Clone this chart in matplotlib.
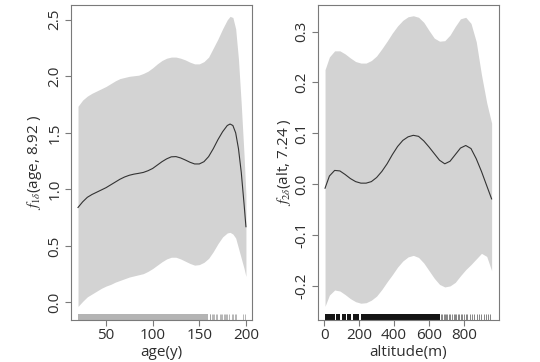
import numpy as np
import matplotlib.pyplot as plt
from matplotlib.ticker import FormatStrFormatter

plt.rcParams['font.family'] = ['Open Sans', 'DejaVu Sans']
plt.rcParams['mathtext.fontset'] = 'stix'

# panel 1: smooth of age
age = [20, 25, 30, 35, 40, 45, 50, 55, 60, 65, 70, 75, 80, 85, 90, 95, 100, 105, 110, 115,
       120, 125, 130, 135, 140, 145, 150, 155, 160, 165, 170, 175, 180, 183, 186, 189, 192, 195, 198, 200]
age_fit = [0.84, 0.89, 0.93, 0.955, 0.975, 0.995, 1.015, 1.04, 1.065, 1.09, 1.11, 1.125, 1.135, 1.142,
           1.15, 1.165, 1.185, 1.215, 1.245, 1.27, 1.288, 1.29, 1.278, 1.26, 1.24, 1.225, 1.225, 1.245,
           1.29, 1.36, 1.44, 1.51, 1.565, 1.578, 1.565, 1.50, 1.36, 1.15, 0.87, 0.67]
age_hi = [1.735, 1.79, 1.825, 1.85, 1.87, 1.89, 1.91, 1.935, 1.96, 1.98, 1.99, 2.0, 2.005, 2.01,
          2.025, 2.045, 2.075, 2.11, 2.14, 2.16, 2.17, 2.17, 2.16, 2.145, 2.125, 2.11, 2.11, 2.13,
          2.17, 2.25, 2.33, 2.42, 2.50, 2.53, 2.52, 2.42, 2.15, 1.75, 1.30, 0.95]
age_lo = [-0.035, 0.01, 0.05, 0.075, 0.10, 0.125, 0.145, 0.16, 0.18, 0.195, 0.21, 0.225, 0.235, 0.245,
          0.255, 0.275, 0.30, 0.33, 0.36, 0.385, 0.40, 0.40, 0.385, 0.365, 0.345, 0.33, 0.335, 0.355,
          0.39, 0.45, 0.52, 0.58, 0.615, 0.62, 0.605, 0.57, 0.48, 0.39, 0.30, 0.23]
# rug: solid block then single observations
age_rug_blocks = [(20, 159)]
age_rug_single = [161, 162, 164, 165, 166, 168, 169, 172, 173, 174, 176, 178, 179, 180,
                  182, 185, 186, 188, 189, 197, 199]

# panel 2: smooth of altitude
alt = [5, 30, 60, 90, 120, 150, 180, 210, 240, 270, 300, 330, 360, 390, 420, 450, 480,
       510, 540, 570, 600, 630, 660, 690, 720, 750, 780, 810, 840, 870, 900, 930, 958]
alt_fit = [-0.008, 0.016, 0.027, 0.026, 0.019, 0.011, 0.005, 0.002, 0.002, 0.005, 0.013, 0.025,
           0.040, 0.058, 0.074, 0.086, 0.093, 0.096, 0.094, 0.085, 0.073, 0.060, 0.047, 0.040,
           0.045, 0.058, 0.071, 0.076, 0.070, 0.050, 0.025, -0.003, -0.029]
alt_hi = [0.225, 0.250, 0.262, 0.262, 0.256, 0.248, 0.241, 0.238, 0.238, 0.243, 0.252, 0.266,
          0.281, 0.297, 0.311, 0.322, 0.329, 0.331, 0.328, 0.318, 0.302, 0.287, 0.281, 0.282,
          0.293, 0.310, 0.325, 0.328, 0.316, 0.280, 0.215, 0.160, 0.120]
alt_lo = [-0.240, -0.218, -0.208, -0.210, -0.217, -0.225, -0.231, -0.234, -0.233, -0.228, -0.220,
          -0.207, -0.192, -0.178, -0.163, -0.151, -0.143, -0.140, -0.144, -0.155, -0.170, -0.185,
          -0.197, -0.202, -0.200, -0.193, -0.180, -0.168, -0.158, -0.147, -0.136, -0.142, -0.170]
alt_rug_blocks = [(3, 60), (68, 92), (100, 124), (132, 156), (165, 200), (210, 662)]
alt_rug_single = [668, 676, 683, 690, 698, 705, 712, 722, 730, 741, 748, 757, 765, 772, 780,
                  790, 801, 812, 820, 835, 848, 858, 872, 885, 900, 912, 925, 940, 950]

band = '#d3d3d3'
frame = '#7a7a7a'
txt = '#2e2e2e'

fig = plt.figure(figsize=(5.4, 3.62), dpi=100)
ax1 = fig.add_axes([0.1315, 0.116, 0.335, 0.870])
ax2 = fig.add_axes([0.588, 0.116, 0.336, 0.870])


def rug(ax, blocks, single, color, single_color):
    for a, b in blocks:
        ax.axvspan(a, b, ymin=0, ymax=0.02, color=color, lw=0)
    ax.vlines(single, 0, 0.02, transform=ax.get_xaxis_transform(), colors=single_color, lw=0.5)


def style(ax):
    for s in ax.spines.values():
        s.set_color(frame)
        s.set_linewidth(0.8)
    ax.tick_params(direction='out', length=4, width=0.8, color=frame,
                   labelsize=11, labelcolor=txt, pad=2)
    plt.setp(ax.get_yticklabels(), rotation=90, va='center')
    ax.yaxis.set_major_formatter(FormatStrFormatter('%.1f'))


ax1.fill_between(age, age_lo, age_hi, color=band, lw=0)
ax1.plot(age, age_fit, color='#333333', lw=0.8)
rug(ax1, age_rug_blocks, age_rug_single, '#b4b4b4', '#999999')
ax1.set_xlim(12.5, 206.4)
ax1.set_ylim(-0.155, 2.63)
ax1.set_xticks([50, 100, 150, 200])
ax1.set_yticks([0.0, 0.5, 1.0, 1.5, 2.0, 2.5])
style(ax1)
ax1.set_xlabel('age(y)', fontsize=11, color=txt, labelpad=1)
ax1.set_ylabel(r'$f_{1\delta}$(age, 8.92 )', fontsize=11, color=txt, labelpad=3)

ax2.fill_between(alt, alt_lo, alt_hi, color=band, lw=0)
ax2.plot(alt, alt_fit, color='#333333', lw=0.8)
rug(ax2, alt_rug_blocks, alt_rug_single, '#151515', '#555555')
ax2.set_xlim(-38, 1000)
ax2.set_ylim(-0.267, 0.352)
ax2.set_xticks([0, 200, 400, 600, 800])
ax2.set_yticks([-0.2, -0.1, 0.0, 0.1, 0.2, 0.3])
style(ax2)
ax2.set_xlabel('altitude(m)', fontsize=11, color=txt, labelpad=1)
ax2.set_ylabel(r'$f_{2\delta}$(alt, 7.24 )', fontsize=11, color=txt, labelpad=1)

fig.savefig('out.png', dpi=100)
